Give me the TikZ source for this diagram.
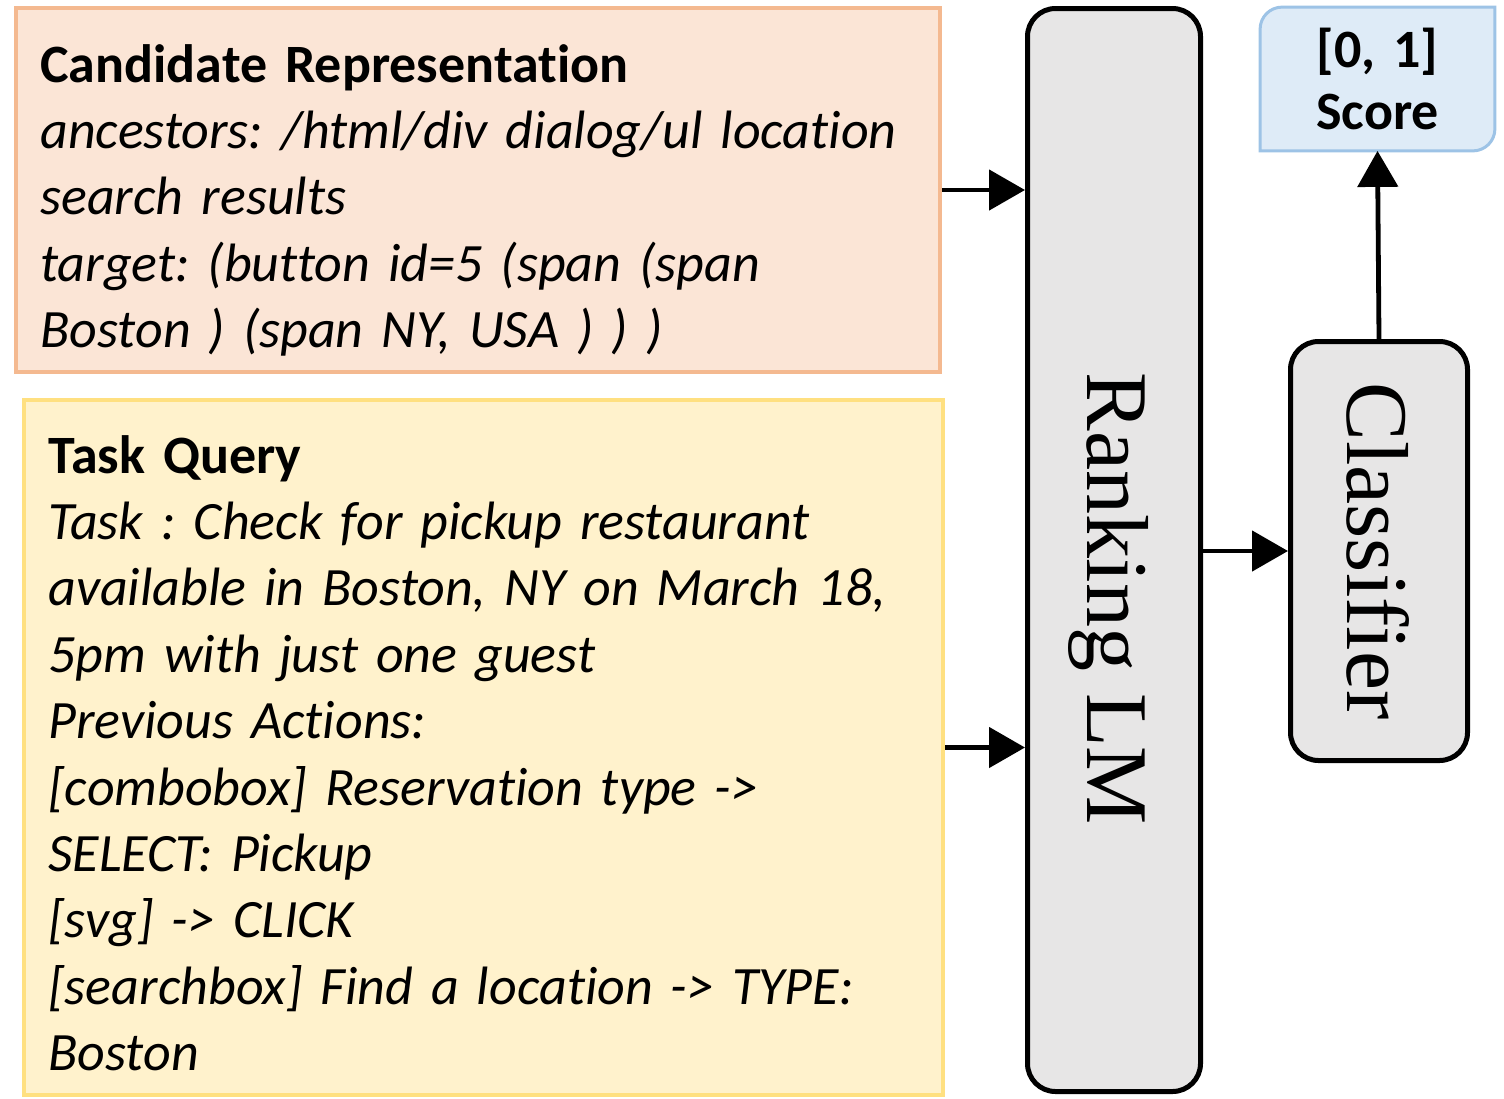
\documentclass[tikz,border=0pt]{standalone}
\usepackage{fontspec}
\setmainfont{Carlito}[Ligatures=NoCommon, WordSpace=0.8]
\newfontfamily\serifrm{Liberation Serif}
\usetikzlibrary{arrows.meta,backgrounds}
\frenchspacing

\definecolor{candfill}{HTML}{FBE5D6}
\definecolor{candline}{HTML}{F4B990}
\definecolor{taskfill}{HTML}{FFF2CC}
\definecolor{taskline}{HTML}{FFE080}
\definecolor{modelfill}{HTML}{E7E6E6}
\definecolor{scorefill}{HTML}{DEEBF7}
\definecolor{scoreline}{HTML}{9DC3E6}

\tikzset{
  inbox/.style={rectangle, line width=2pt, inner sep=0pt},
  modelbox/.style={rectangle, draw=black, fill=modelfill, line width=2.5pt,
    rounded corners=14pt, inner sep=0pt},
  bodytext/.style={anchor=base west, inner sep=0pt, align=left,
    text width=455pt, font=\fontsize{27}{33.2}\selectfont},
  modeltext/.style={rotate=-90, anchor=base, inner sep=0pt,
    font=\serifrm\fontsize{44}{44}\selectfont},
  conn/.style={line width=2.4pt, -{Triangle[length=18pt,width=20pt]}},
}

\begin{document}
\begin{tikzpicture}[x=0.5pt, y=0.5pt]
\useasboundingbox (0,0) rectangle (1504,-1098);

% input boxes
\node[inbox, draw=candline, fill=candfill, minimum width=462pt, minimum height=182pt]
  (cand) at (478,-190) {};
\node[inbox, draw=taskline, fill=taskfill, minimum width=459.5pt, minimum height=347.5pt]
  (task) at (483.5,-747.5) {};

\node[bodytext] (candtext) at (40,-82) {%
  \textbf{Candidate Representation}\\
  \textit{ancestors: /html/div dialog/ul location}\\
  \textit{search results}\\
  \textit{target: (button id=5 (span (span}\\
  \textit{Boston ) (span NY, USA ) ) )}};

\node[bodytext] (tasktext) at (48,-473) {%
  \textbf{Task Query}\\
  \textit{Task : Check for pickup restaurant}\\
  \textit{available in Boston, NY on March 18,}\\
  \textit{5pm with just one guest}\\
  \textit{Previous Actions:}\\
  \textit{[combobox] Reservation type ->}\\
  \textit{SELECT: Pickup}\\
  \textit{[svg] -> CLICK}\\
  \textit{[searchbox] Find a location -> TYPE:}\\
  \textit{Boston}};

% model blocks
\node[modelbox, minimum width=86.5pt, minimum height=541.5pt] (lm) at (1114,-550) {};
\node[modeltext] (lmtext) at (1087,-599) {Ranking LM};

\node[modelbox, minimum width=88.5pt, minimum height=209.5pt] (cls) at (1379,-551) {};
\node[modeltext] (clstext) at (1347,-551) {Classifier};

% output score, rounded at top-left and bottom-right
\node[rectangle, inner sep=0pt, minimum width=117pt, minimum height=71.5pt]
  (score) at (1377.5,-79) {};
\begin{scope}[on background layer]
  \draw[draw=scoreline, fill=scorefill, line width=1.5pt]
    (score.south west) -- ([yshift=-11pt]score.north west)
    arc[start angle=180, end angle=90, radius=11pt]
    -- (score.north east) -- ([yshift=11pt]score.south east)
    arc[start angle=0, end angle=-90, radius=11pt] -- cycle;
\end{scope}
\node[anchor=base, inner sep=0pt, align=center, text width=110pt,
  font=\bfseries\fontsize{27}{31}\selectfont] (scoretext) at (1377.5,-67)
  {[0, 1]\\Score};

% connectors
\draw[conn] (cand.east) -- (cand.east -| lm.west);
\draw[conn] (task.east) -- (task.east -| lm.west);
\draw[conn] (cls.west -| lm.east) -- (cls.west);
\draw[conn] (cls.north) -- (score.south);
\end{tikzpicture}
\end{document}
